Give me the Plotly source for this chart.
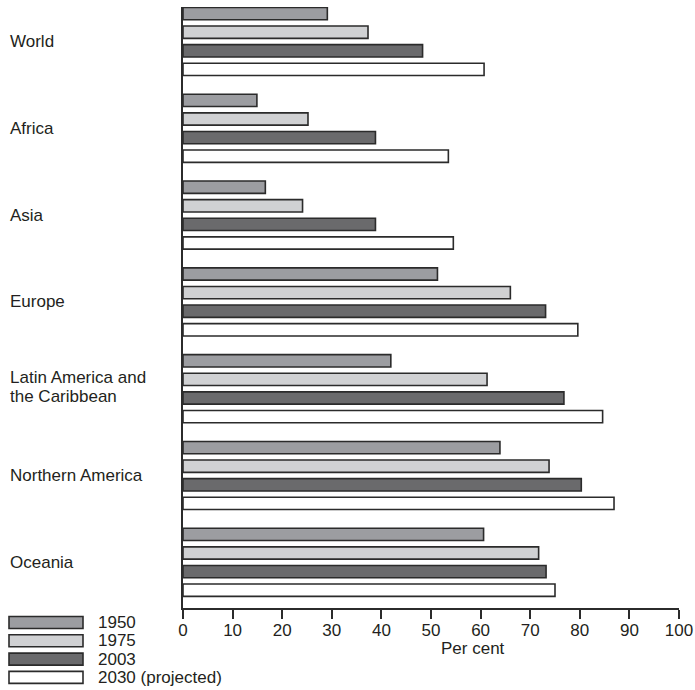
import plotly.graph_objects as go

regions = ["World", "Africa", "Asia", "Europe", "Latin America and<br>the Caribbean",
           "Northern America", "Oceania"]
series_names = ["1950", "1975", "2003", "2030 (projected)"]
v1950 = [29.1, 14.9, 16.6, 51.3, 41.9, 63.9, 60.6]
v1975 = [37.3, 25.2, 24.1, 66.0, 61.3, 73.8, 71.7]
v2003 = [48.3, 38.8, 38.8, 73.1, 76.8, 80.3, 73.2]
v2030 = [60.7, 53.5, 54.5, 79.6, 84.6, 86.9, 75.0]
x_ticks = [0, 10, 20, 30, 40, 50, 60, 70, 80, 90, 100]

series_values = [v1950, v1975, v2003, v2030]
colors = ["#9c9da1", "#d0d1d3", "#6a6a6c", "#ffffff"]
outline = "#2b2b2b"
txt = "#231f20"
FONT = "Liberation Sans, Arial, sans-serif"
FS = 17

W, H = 695, 690
ML, MR, MT, MB = 183, 16, 7, 82
PW = W - ML - MR
PH = H - MT - MB

def px_x(x):
    return (x - ML) / PW

def px_y(y):
    return (H - MB - y) / PH

fig = go.Figure()
for name, vals, col in zip(series_names, series_values, colors):
    fig.add_trace(go.Bar(
        y=list(range(len(regions))), x=vals, name=name, orientation="h",
        marker=dict(color=col, line=dict(color=outline, width=1.6)),
        showlegend=False,
    ))

annotations = []
for i, r in enumerate(regions):
    lines = r.split("<br>")
    if len(lines) == 1:
        shifts = [0]
    else:
        shifts = [11, -8]
    for line, s in zip(lines, shifts):
        annotations.append(dict(
            x=px_x(8), xref="paper", y=i, yref="y", text=line, showarrow=False,
            xanchor="left", yanchor="middle", align="left", yshift=s,
            font=dict(family=FONT, size=FS, color=txt),
        ))

annotations.append(dict(
    x=px_x(473), xref="paper", y=px_y(648), yref="paper", text="Per cent",
    showarrow=False, xanchor="center", yanchor="middle",
    font=dict(family=FONT, size=FS, color=txt),
))

shapes = []
top0, pitch, hh = 616.5, 18.3, 12
for k, (name, col) in enumerate(zip(series_names, colors)):
    t = top0 + k * pitch
    shapes.append(dict(
        type="rect", xref="paper", yref="paper",
        x0=px_x(9), x1=px_x(83), y0=px_y(t), y1=px_y(t + hh),
        fillcolor=col, line=dict(color=outline, width=1.6), layer="above",
    ))
    annotations.append(dict(
        x=px_x(96), xref="paper", y=px_y(t + hh / 2), yref="paper", text=name,
        showarrow=False, xanchor="left", yanchor="middle",
        font=dict(family=FONT, size=FS, color=txt),
    ))

fig.update_layout(
    width=W, height=H,
    margin=dict(l=ML, r=MR, t=MT, b=MB, pad=0, autoexpand=False),
    paper_bgcolor="white", plot_bgcolor="white",
    barmode="group", bargap=0.143, bargroupgap=0.34,
    font=dict(family=FONT, size=FS, color=txt),
    xaxis=dict(
        range=[0, 100], tickvals=x_ticks, ticktext=[str(t) for t in x_ticks],
        showgrid=False, zeroline=False, showline=True, linecolor=outline,
        linewidth=2, ticks="outside", ticklen=9, tickwidth=2, tickcolor=outline,
        tickfont=dict(family=FONT, size=FS, color=txt),
        ticklabelstandoff=-3, automargin=False,
    ),
    yaxis=dict(
        range=[6.5265, -0.3975], showticklabels=False, showgrid=False,
        zeroline=False, showline=True, linecolor=outline, linewidth=2,
        ticks="", automargin=False,
    ),
    annotations=annotations, shapes=shapes,
)

fig.write_html(
    "out.html",
    config={"displayModeBar": False},
    post_script="document.body.style.margin='0';document.body.style.overflow='hidden';",
)
